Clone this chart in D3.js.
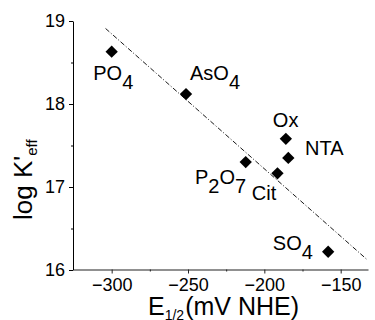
<!DOCTYPE html>
<html>
<head>
<meta charset="utf-8">
<script src="https://cdn.jsdelivr.net/npm/d3@7"></script>
<style>
  html, body { margin: 0; padding: 0; background: #fff; }
  svg { display: block; font-family: "Liberation Sans", Arial, Helvetica, sans-serif; }
</style>
</head>
<body>
<svg id="chart" width="375" height="320"></svg>
<script>
// ---- data ----
const ligands = ["PO4", "AsO4", "P2O7", "Cit", "Ox", "NTA", "SO4"];
const labelParts = [
  [["PO", 0], ["4", 1]],
  [["AsO", 0], ["4", 1]],
  [["P", 0], ["2", 1], ["O", 0], ["7", 1]],
  [["Cit", 0]],
  [["Ox", 0]],
  [["NTA", 0]],
  [["SO", 0], ["4", 1]]
];
const e12 = [-300, -251.3, -212.2, -191.4, -185.9, -184.3, -158.2];
const logK = [18.63, 18.12, 17.30, 17.165, 17.58, 17.35, 16.22];
const fitX = [-304, -133];
const fitY = [18.91, 16.13];
const xMajor = [-300, -250, -200, -150];
const xMinor = [-275, -225, -175];
const yMajor = [16, 17, 18, 19];
const yMinor = [16.5, 17.5, 18.5];

// ---- layout (label offsets from each point, px) ----
const labelOffset = [
  [-18.4, 28.3], [4, -14], [-50.7, 21.7], [-25.6, 26.7], [-13, -12], [16.7, -3.3], [-55.3, -1.7]
];

const svg = d3.select("#chart");
const x = d3.scaleLinear().domain([-325, -132.1]).range([73.5, 368]);
const y = d3.scaleLinear().domain([16, 19]).range([270, 21]);

// x axis
const gx = svg.append("g").attr("transform", "translate(0,269.5)");
gx.call(d3.axisBottom(x).tickValues(xMajor).tickSize(4).tickPadding(5).tickSizeOuter(0).tickFormat(d3.format("d")));
gx.append("g").call(d3.axisBottom(x).tickValues(xMinor).tickSize(2).tickFormat("").tickSizeOuter(0))
  .select(".domain").remove();
gx.selectAll(".domain").attr("stroke", "#222").attr("stroke-width", 1.2);
gx.selectAll(".tick line").attr("stroke", "#222");
gx.selectAll(".tick text").attr("font-size", 18).attr("fill", "#000").attr("font-family", "Liberation Sans, Arial, sans-serif");

// y axis
const gy = svg.append("g").attr("transform", "translate(73,0)");
gy.call(d3.axisLeft(y).tickValues(yMajor).tickSize(4).tickPadding(4).tickSizeOuter(0).tickFormat(d3.format("d")));
gy.append("g").call(d3.axisLeft(y).tickValues(yMinor).tickSize(2).tickFormat("").tickSizeOuter(0))
  .select(".domain").remove();
gy.selectAll(".domain").attr("stroke", "#000").attr("stroke-width", 1);
gy.selectAll(".tick line").attr("stroke", "#000");
gy.selectAll(".tick text").attr("font-size", 18).attr("fill", "#000").attr("font-family", "Liberation Sans, Arial, sans-serif");

// fit line
svg.append("line")
  .attr("x1", x(fitX[0])).attr("y1", y(fitY[0]))
  .attr("x2", x(fitX[1])).attr("y2", y(fitY[1]))
  .attr("stroke", "#000").attr("stroke-width", 0.9)
  .attr("stroke-dasharray", "5,2,1,2");

// points (diamonds)
const diamond = d3.symbol().type(d3.symbolSquare).size(76);
svg.append("g").selectAll("path")
  .data(ligands)
  .join("path")
  .attr("d", diamond)
  .attr("transform", (d, i) => `translate(${x(e12[i])},${y(logK[i])}) rotate(45)`)
  .attr("fill", "#000");

// point labels
const subShift = 9;
ligands.forEach((name, i) => {
  const t = svg.append("text")
    .attr("x", x(e12[i]) + labelOffset[i][0])
    .attr("y", y(logK[i]) + labelOffset[i][1])
    .attr("font-size", 20).attr("fill", "#000");
  let cur = 0;
  labelParts[i].forEach(([s, sub]) => {
    const target = sub ? subShift : 0;
    t.append("tspan").attr("dy", target - cur).text(s);
    cur = target;
  });
});

// x title
const xt = svg.append("text").attr("x", 148).attr("y", 314.5).attr("font-size", 25).attr("fill", "#000");
xt.append("tspan").text("E");
xt.append("tspan").attr("font-size", 14).attr("dy", 5).text("1/2");
xt.append("tspan").attr("dy", -5).attr("dx", 1).text("(mV NHE)");

// y title
const yt = svg.append("text").attr("transform", "translate(31.5,220) rotate(-90)")
  .attr("font-size", 26).attr("fill", "#000");
yt.append("tspan").text("log K'");
yt.append("tspan").attr("font-size", 15).attr("dy", 5).text("eff");
</script>
</body>
</html>
